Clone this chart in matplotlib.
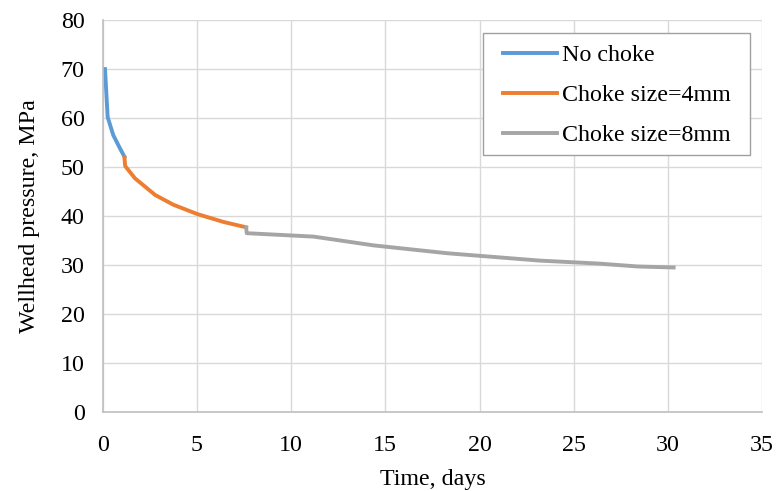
import matplotlib.pyplot as plt
from matplotlib.patches import Rectangle

# wellhead pressure vs time for each choke stage
t_no_choke = [0.13, 0.27, 0.57, 0.9, 1.16]
p_no_choke = [70.0, 60.2, 56.5, 54.0, 52.1]

t_choke4 = [1.16, 1.2, 1.72, 2.79, 3.76, 5.03, 6.41, 7.62]
p_choke4 = [52.0, 50.2, 47.7, 44.3, 42.3, 40.4, 38.8, 37.7]

t_choke8 = [7.62, 7.65, 11.2, 14.4, 18.3, 23.2, 26.3, 28.4, 30.3]
p_choke8 = [37.6, 36.5, 35.8, 34.0, 32.4, 30.9, 30.3, 29.7, 29.5]

x_ticks = [0, 5, 10, 15, 20, 25, 30, 35]
y_ticks = [0, 10, 20, 30, 40, 50, 60, 70, 80]

plt.rcParams['font.family'] = ['Liberation Serif', 'DejaVu Serif']
fs = 17.3

fig = plt.figure(figsize=(7.77, 4.91), dpi=100)
ax = fig.add_axes([0.132, 0.161, 0.849, 0.798])

lw = 2.8
ax.plot(t_no_choke, p_no_choke, color='#5B9BD5', lw=lw, label='No choke')
ax.plot(t_choke4, p_choke4, color='#ED7D31', lw=lw, label='Choke size=4mm')
ax.plot(t_choke8, p_choke8, color='#A5A5A5', lw=lw, label='Choke size=8mm')

ax.set_xlim(0, 35)
ax.set_ylim(0, 80)
ax.set_xticks(x_ticks)
ax.set_yticks(y_ticks)
ax.grid(True, color='#D9D9D9', lw=1.0)
ax.set_axisbelow(True)
ax.tick_params(length=0, labelsize=fs)
ax.tick_params(axis='x', pad=16.5)
ax.tick_params(axis='y', pad=13)

for side in ['top', 'right']:
    ax.spines[side].set_visible(False)
for side in ['left', 'bottom']:
    ax.spines[side].set_color('#BFBFBF')
    ax.spines[side].set_linewidth(1.2)

ax.set_xlabel('Time, days', fontsize=fs, labelpad=9.5)
ax.set_ylabel('Wellhead pressure, MPa', fontsize=fs, labelpad=15)

# legend box: plain square frame with roomy side margins
frame = Rectangle((0.577, 0.656), 0.405, 0.312, transform=ax.transAxes,
                  facecolor='white', edgecolor='#A0A0A0', lw=1.0, zorder=4.5)
ax.add_patch(frame)
ax.legend(loc='upper left', bbox_to_anchor=(0.607, 0.938), fontsize=fs,
          frameon=False, handlelength=2.25, handletextpad=0.2,
          labelspacing=0.75, borderpad=0, borderaxespad=0)

fig.savefig('out.png', dpi=100)
